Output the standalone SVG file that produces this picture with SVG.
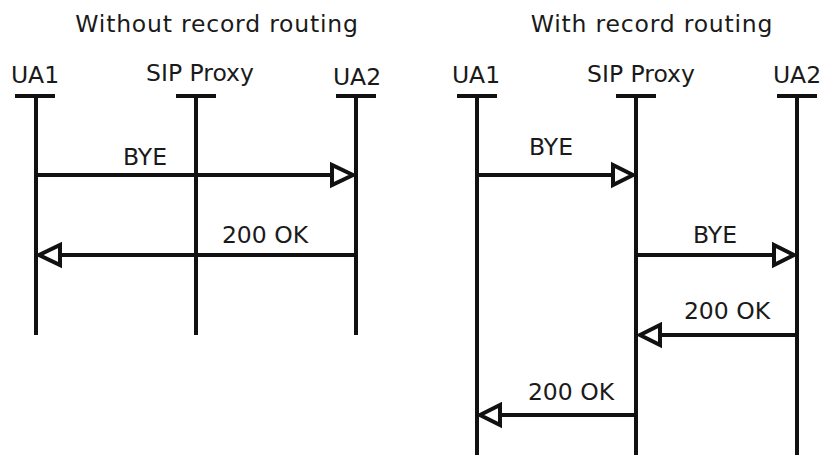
<svg xmlns="http://www.w3.org/2000/svg" width="825" height="455" viewBox="0 0 825 455">
<style>
text{font-family:"DejaVu Sans","Liberation Sans",sans-serif;font-size:23.5px;fill:#1a1a1a;text-anchor:middle}
.title{letter-spacing:0.8px}
.life{stroke:#111;stroke-width:4;fill:none}
.msg{stroke:#111;stroke-width:4;fill:none}
.head{stroke:#111;stroke-width:4;fill:#fff;stroke-linejoin:miter}
</style>
<rect width="825" height="455" fill="#fff"/>
<text class="title" x="217" y="32">Without record routing</text>
<text class="title" x="652" y="32">With record routing</text>
<g id="L-UA1"><text x="35" y="83">UA1</text><path class="life" d="M15 96H55M36 96V335"/></g>
<g id="L-Proxy"><text x="200" y="81">SIP Proxy</text><path class="life" d="M176 96H216M196 96V335"/></g>
<g id="L-UA2"><text x="357" y="85">UA2</text><path class="life" d="M336 96H376M356 96V335"/></g>
<g id="R-UA1"><text x="476" y="83">UA1</text><path class="life" d="M457 96H497M477 96V455"/></g>
<g id="R-Proxy"><text x="641" y="82">SIP Proxy</text><path class="life" d="M616 96H656M636 96V455"/></g>
<g id="R-UA2"><text x="797" y="83">UA2</text><path class="life" d="M777 96H817M797 96V455"/></g>
<g id="connectors">
<path class="msg" d="M36 175H332"/><polygon class="head" points="353,175 332,165 332,185"/>
<text x="145" y="165">BYE</text>
<path class="msg" d="M356 255H60"/><polygon class="head" points="39,255 60,245 60,265"/>
<text x="265" y="243">200 OK</text>
<path class="msg" d="M477 175H613"/><polygon class="head" points="633,175 613,165 613,185"/>
<text x="551" y="155">BYE</text>
<path class="msg" d="M636 255H774"/><polygon class="head" points="794,255 774,245 774,265"/>
<text x="715" y="243">BYE</text>
<path class="msg" d="M797 335H660"/><polygon class="head" points="640,335 660,325 660,345"/>
<text x="727" y="319">200 OK</text>
<path class="msg" d="M636 415H500"/><polygon class="head" points="480,415 500,405 500,425"/>
<text x="571" y="400">200 OK</text>
</g>
</svg>
